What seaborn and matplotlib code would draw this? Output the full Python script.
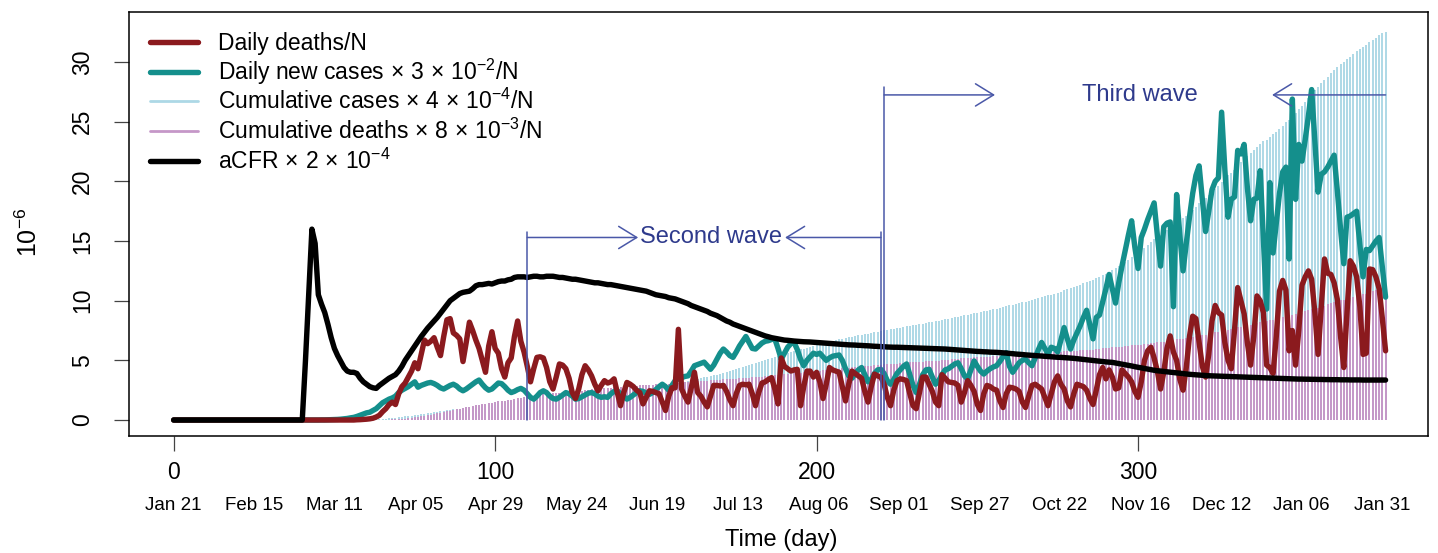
import numpy as np
import matplotlib
matplotlib.use("Agg")
import matplotlib.pyplot as plt
import seaborn as sns
from matplotlib.lines import Line2D
from matplotlib.patches import FancyArrowPatch
import matplotlib.transforms as mtransforms

# ---------------- data (units of 1e-6) ----------------
# Daily new cases x 3e-2 / N, day 0 .. 377
daily_cases = [0.0] * 46 + [
    0.01, 0.01, 0.02, 0.03, 0.04, 0.05, 0.07, 0.10, 0.13, 0.18,
    0.22, 0.30, 0.40, 0.50, 0.60, 0.65, 0.80, 0.95, 1.20, 1.45,
    1.60, 1.75, 1.85, 2.00, 2.30, 2.50, 2.65, 2.80, 3.00, 3.20,
    2.75, 2.90, 3.00, 3.10, 3.15, 3.05, 2.90, 2.70, 2.60, 2.75,
    2.90, 3.00, 2.85, 2.60, 2.45, 2.60, 2.80, 3.00, 3.20, 3.35,
    3.00, 2.70, 2.50, 2.60, 2.85, 3.10, 3.05, 2.80, 2.50, 2.30,
    2.40, 2.55, 2.65, 2.50, 2.20, 1.90, 1.75, 2.00, 2.30, 2.45,
    2.30, 2.00, 1.80, 1.75, 1.90, 2.10, 2.30, 2.20, 2.00, 1.75,
    1.80, 1.95, 2.10, 2.25, 2.30, 2.20, 2.00, 1.90, 1.95, 1.90,
    2.20, 2.40, 2.45, 2.20, 1.95, 1.75, 1.90, 2.10, 2.30, 2.45,
    2.40, 2.25, 2.15, 2.30, 2.55, 2.80, 3.00, 2.80, 2.50, 2.90,
    3.30, 3.45, 3.55, 3.65, 3.70, 4.10, 4.55, 4.65, 4.75, 4.85,
    4.55, 4.25, 4.60, 5.10, 5.60, 5.95, 5.70, 5.40, 5.25, 5.70,
    6.20, 6.60, 7.00, 6.50, 6.00, 5.95, 6.20, 6.45, 6.60, 6.65,
    6.75, 6.80, 6.00, 5.10, 5.60, 6.10, 6.40, 6.50, 5.90, 5.10,
    4.55, 5.00, 5.30, 5.60, 5.50, 5.60, 5.30, 5.00, 5.20, 5.35,
    5.40, 5.45, 5.00, 4.30, 3.70, 3.50, 3.90, 4.20, 4.40, 3.80,
    3.20, 3.40, 3.90, 4.20, 4.25, 3.90, 3.30, 3.00, 3.40, 3.90,
    4.20, 4.50, 4.70, 3.80, 2.90, 2.30, 3.00, 3.80, 4.20, 4.25,
    3.60, 3.00, 3.30, 3.80, 4.20, 4.30, 4.50, 4.70, 4.80, 4.30,
    3.70, 3.45, 4.20, 4.95, 4.50, 4.10, 3.85, 4.10, 4.30, 4.45,
    4.55, 4.90, 5.30, 5.65, 4.50, 4.00, 4.40, 4.80, 5.00, 5.10,
    4.80, 4.55, 5.20, 5.90, 6.50, 6.00, 5.55, 6.10, 6.00, 5.70,
    6.70, 7.75, 6.80, 5.95, 6.70, 7.30, 7.90, 8.60, 9.20, 8.00,
    6.80, 8.60, 8.80, 9.90, 11.00, 12.20, 11.00, 9.80, 11.50, 12.90,
    14.20, 15.50, 16.70, 14.50, 12.70, 15.30, 16.00, 16.80, 17.50, 18.20,
    15.50, 12.90, 16.20, 16.50, 16.60, 9.50, 18.90, 15.50, 12.50, 14.80,
    17.00, 19.00, 20.50, 21.30, 18.50, 15.80, 17.50, 19.30, 20.00, 20.30,
    25.80, 21.00, 17.00, 18.50, 18.70, 22.60, 22.30, 23.10, 19.50, 16.70,
    18.50, 18.60, 20.90, 15.00, 9.30, 19.90, 14.00, 16.50, 19.00, 20.80,
    21.20, 13.50, 26.90, 18.50, 23.10, 21.70, 23.50, 25.50, 27.70, 23.40,
    19.10, 20.60, 20.80, 21.20, 21.70, 22.20, 19.20, 16.00, 13.10, 17.00,
    17.10, 17.30, 17.50, 14.70, 12.00, 14.30, 14.20, 14.60, 15.00, 15.30,
    12.80, 10.30,
]

# Daily deaths / N, day 0 .. 377
daily_deaths = [0.0] * 57 + [
    0.02, 0.03, 0.05, 0.07, 0.10, 0.15, 0.25, 0.40, 0.70, 0.95,
    1.30, 1.50, 1.30, 2.20, 2.80, 3.10, 3.60, 4.10, 4.80, 4.30,
    5.50, 6.70, 6.40, 6.60, 6.90, 6.10, 5.40, 7.00, 8.40, 8.50,
    7.30, 7.10, 6.80, 4.90, 6.50, 8.20, 7.50, 6.70, 6.00, 5.00,
    4.00, 6.20, 7.40, 6.00, 5.60, 4.30, 3.60, 4.80, 5.20, 7.00,
    8.30, 6.60, 5.70, 4.50, 3.20, 4.30, 5.25, 5.30, 5.20, 4.40,
    3.20, 2.60, 3.60, 4.70, 4.60, 4.30, 3.50, 2.30, 1.80, 2.60,
    3.80, 4.55, 4.20, 3.70, 3.00, 2.45, 2.90, 3.30, 3.10, 3.20,
    3.45, 2.30, 1.20, 2.30, 3.15, 3.00, 2.80, 2.50, 2.30, 1.35,
    1.90, 2.45, 2.40, 2.30, 2.20, 1.50, 0.80, 2.00, 2.70, 2.70,
    7.60, 2.60, 2.00, 1.50, 2.70, 4.00, 2.30, 2.00, 1.50, 1.10,
    2.00, 2.90, 2.90, 2.85, 2.90, 2.40, 1.70, 1.20, 2.20, 2.90,
    3.00, 2.95, 3.00, 2.20, 1.20, 2.30, 3.10, 3.20, 3.40, 3.55,
    2.60, 1.35, 5.20, 4.50, 4.30, 4.10, 4.20, 4.25, 1.20, 2.80,
    4.10, 4.10, 3.60, 4.00, 3.20, 1.80, 3.00, 4.40, 4.20, 4.10,
    4.00, 2.80, 1.60, 3.00, 4.10, 3.90, 3.70, 3.50, 2.40, 1.50,
    2.80, 3.85, 3.70, 3.60, 3.00, 1.90, 1.20, 2.50, 3.30, 3.45,
    3.40, 3.30, 2.20, 1.20, 0.95, 2.30, 3.60, 3.60, 3.00, 2.40,
    1.50, 1.20, 3.80, 3.50, 3.20, 3.15, 3.10, 2.90, 1.50, 2.30,
    3.30, 2.90, 2.40, 1.30, 0.80, 2.20, 2.90, 2.80, 2.60, 2.50,
    1.60, 1.05, 2.20, 2.75, 2.70, 2.60, 2.40, 1.50, 1.05, 2.00,
    2.90, 3.00, 2.80, 2.60, 1.90, 1.20, 2.20, 3.20, 3.70, 3.00,
    2.60, 1.60, 1.10, 2.20, 3.00, 2.90, 2.80, 2.50, 1.80, 1.30,
    2.50, 3.80, 4.40, 3.45, 4.20, 3.60, 2.60, 2.70, 4.20, 3.90,
    3.60, 3.20, 2.40, 1.90, 3.20, 5.00, 5.80, 6.10, 5.20, 4.10,
    2.60, 4.00, 6.00, 7.05, 5.70, 5.00, 3.40, 2.50, 4.40, 7.00,
    8.70, 8.50, 6.50, 4.50, 3.60, 5.50, 8.30, 9.60, 9.00, 8.80,
    6.50, 5.00, 4.30, 7.50, 11.10, 10.00, 8.90, 6.50, 4.60, 7.00,
    10.40, 10.00, 9.00, 4.60, 4.40, 3.90, 7.00, 10.80, 11.70, 10.90,
    5.80, 7.50, 4.60, 7.50, 11.30, 12.00, 12.50, 11.80, 9.00, 5.50,
    9.50, 13.50, 12.30, 12.20, 11.50, 10.10, 7.00, 4.40, 9.00, 13.35,
    12.90, 12.00, 9.50, 5.50, 5.60, 12.66, 12.60, 12.00, 11.00, 8.50,
    5.80,
]

# aCFR x 2e-4, day 0 .. 377
acfr = [0.0] * 41 + [
    5.00, 10.50, 16.00, 14.80, 10.50, 9.70, 9.00, 8.00, 6.90, 6.00,
    5.40, 4.90, 4.40, 4.10, 4.00, 4.00, 3.90, 3.50, 3.20, 3.00,
    2.80, 2.70, 2.65, 2.90, 3.10, 3.30, 3.50, 3.65, 3.80, 4.10,
    4.50, 5.00, 5.40, 5.80, 6.20, 6.60, 7.00, 7.35, 7.70, 8.00,
    8.30, 8.60, 8.95, 9.30, 9.65, 10.00, 10.20, 10.40, 10.60, 10.70,
    10.75, 10.80, 11.00, 11.25, 11.35, 11.35, 11.40, 11.45, 11.40, 11.50,
    11.60, 11.65, 11.65, 11.75, 11.80, 11.95, 12.00, 12.00, 12.00, 11.95,
    12.00, 12.05, 12.05, 12.00, 12.00, 12.05, 12.05, 12.05, 12.00, 11.95,
    11.95, 11.90, 11.85, 11.80, 11.80, 11.75, 11.70, 11.65, 11.60, 11.55,
    11.50, 11.50, 11.45, 11.40, 11.35, 11.35, 11.30, 11.25, 11.20, 11.15,
    11.10, 11.05, 11.00, 10.95, 10.90, 10.85, 10.80, 10.70, 10.60, 10.50,
    10.45, 10.40, 10.35, 10.25, 10.20, 10.15, 10.05, 9.95, 9.85, 9.75,
    9.60, 9.50, 9.40, 9.30, 9.20, 9.10, 8.95, 8.85, 8.75, 8.60,
    8.45, 8.30, 8.20, 8.05, 7.95, 7.85, 7.75, 7.65, 7.55, 7.45,
    7.35, 7.25, 7.15, 7.05, 6.98, 6.90, 6.85, 6.80, 6.75, 6.70,
    6.68, 6.65, 6.62, 6.60, 6.58, 6.56, 6.55, 6.54, 6.52, 6.50,
    6.48, 6.46, 6.44, 6.42, 6.40, 6.38, 6.36, 6.34, 6.32, 6.30,
    6.29, 6.28, 6.26, 6.25, 6.23, 6.22, 6.20, 6.18, 6.17, 6.15,
    6.14, 6.12, 6.11, 6.10, 6.10, 6.09, 6.08, 6.07, 6.06, 6.05,
    6.04, 6.03, 6.02, 6.01, 6.00, 5.99, 5.98, 5.97, 5.96, 5.95,
    5.93, 5.91, 5.89, 5.87, 5.85, 5.83, 5.81, 5.79, 5.77, 5.75,
    5.74, 5.72, 5.71, 5.69, 5.68, 5.67, 5.65, 5.63, 5.61, 5.58,
    5.56, 5.53, 5.51, 5.49, 5.46, 5.44, 5.42, 5.40, 5.38, 5.36,
    5.34, 5.32, 5.30, 5.28, 5.26, 5.25, 5.23, 5.21, 5.19, 5.17,
    5.14, 5.11, 5.08, 5.05, 5.02, 4.99, 4.96, 4.93, 4.90, 4.87,
    4.85, 4.83, 4.78, 4.73, 4.68, 4.63, 4.58, 4.53, 4.47, 4.42,
    4.37, 4.32, 4.27, 4.22, 4.17, 4.13, 4.10, 4.07, 4.04, 4.01,
    3.98, 3.95, 3.92, 3.89, 3.86, 3.83, 3.81, 3.79, 3.77, 3.75,
    3.73, 3.71, 3.70, 3.69, 3.68, 3.67, 3.66, 3.65, 3.64, 3.63,
    3.62, 3.61, 3.60, 3.59, 3.58, 3.57, 3.56, 3.55, 3.54, 3.53,
    3.52, 3.51, 3.50, 3.49, 3.48, 3.47, 3.46, 3.45, 3.44, 3.43,
    3.43, 3.42, 3.42, 3.41, 3.41, 3.40, 3.40, 3.39, 3.39, 3.38,
    3.38, 3.38, 3.37, 3.37, 3.37, 3.36, 3.36, 3.36, 3.36, 3.35,
    3.35, 3.35, 3.35, 3.35, 3.35, 3.35, 3.35,
]

# legend scale factors (from the legend text)
cases_factor = 3e-2
cum_cases_factor = 4e-4
cum_deaths_factor = 8e-3

x_ticks = [0, 100, 200, 300]
y_ticks = [0, 5, 10, 15, 20, 25, 30]
date_labels = ["Jan 21", "Feb 15", "Mar 11", "Apr 05", "Apr 29", "May 24",
               "Jun 19", "Jul 13", "Aug 06", "Sep 01", "Sep 27", "Oct 22",
               "Nov 16", "Dec 12", "Jan 06", "Jan 31"]
last_day = 376

wave_names = ["Second wave", "Third wave"]
wave_start = [110, 221]
wave_end = [220, 377]
wave_level = [15.3, 27.25]
wave_top = [15.8, 27.9]
wave_text_x = [167.2, 300.5]
wave_tip_right = [144.5, 255.5]
wave_tip_left = [190.2, 341.7]

# ---------------- derived series ----------------
days = np.arange(len(daily_cases))
cum_cases = np.cumsum(daily_cases) * (cum_cases_factor / cases_factor)
cum_deaths = np.cumsum(daily_deaths) * cum_deaths_factor

# ---------------- style ----------------
sns.set_theme(style="white")
plt.rcParams["font.family"] = ["Liberation Sans", "DejaVu Sans"]
plt.rcParams["mathtext.fontset"] = "custom"
plt.rcParams["mathtext.rm"] = "Liberation Sans"
plt.rcParams["mathtext.it"] = "Liberation Sans:italic"
plt.rcParams["mathtext.bf"] = "Liberation Sans:bold"
for key in ("text.color", "axes.labelcolor", "xtick.color", "ytick.color"):
    plt.rcParams[key] = "black"

C_RED = "#8B1A1E"
C_TEAL = "#148F8C"
C_LBLUE = "#ADD8E6"
C_PLUM = "#C597C8"
C_BLACK = "#000000"
C_ARROW = "#4A58A8"
C_TEXT = "#2E3A8C"

W, H = 1438, 553
fig = plt.figure(figsize=(W / 100, H / 100), dpi=100)
ax_l, ax_r, ax_t, ax_b = 129, 1428, 12, 436
ax = fig.add_axes([ax_l / W, 1 - ax_b / H, (ax_r - ax_l) / W, (ax_b - ax_t) / H])

# bars (type = 'h')
ax.vlines(days, 0, cum_cases, color=C_LBLUE, lw=1.4, zorder=1)
ax.vlines(days, 0, cum_deaths, color=C_PLUM, lw=1.4, zorder=2)

# lines
sns.lineplot(x=days, y=daily_cases, ax=ax, color=C_TEAL, lw=3.9, zorder=3)
sns.lineplot(x=days, y=daily_deaths, ax=ax, color=C_RED, lw=3.9, zorder=4)
sns.lineplot(x=days, y=acfr, ax=ax, color=C_BLACK, lw=3.9, zorder=5)

# wave annotations
for i in range(2):
    ax.plot([wave_start[i], wave_start[i]], [0, wave_top[i]], color=C_ARROW, lw=1.1, zorder=6)
    if i == 0:
        ax.plot([wave_end[i], wave_end[i]], [0, wave_top[i]], color=C_ARROW, lw=1.1, zorder=6)
    for a, b in ((wave_start[i], wave_tip_right[i]), (wave_end[i], wave_tip_left[i])):
        arr = FancyArrowPatch((a, wave_level[i]), (b, wave_level[i]),
                              arrowstyle="->,head_length=1.3,head_width=0.8",
                              mutation_scale=10, color=C_ARROW, lw=1.1,
                              shrinkA=0, shrinkB=0, zorder=6)
        ax.add_patch(arr)
    ax.text(wave_text_x[i], wave_level[i], wave_names[i], color=C_TEXT,
            fontsize=17, ha="center", va="center", zorder=7)

# axes
ax.set_xlim(-13.9, 390.2)
ax.set_ylim(-1.34, 34.2)
ax.set_xticks(x_ticks)
ax.set_xticklabels([str(v) for v in x_ticks], fontsize=16.5)
ax.set_yticks(y_ticks)
ax.set_yticklabels([str(v) for v in y_ticks], fontsize=16.5, rotation=90, va="center")
ax.tick_params(axis="x", length=10.8, width=0.9, color="#444444", pad=7, bottom=True)
ax.tick_params(axis="y", length=10.8, width=0.9, color="#444444", pad=14.5, left=True)
for s in ax.spines.values():
    s.set_visible(True)
    s.set_color("black")
    s.set_linewidth(1.1)
ax.set_xlabel("")
ax.set_ylabel("")

trans = mtransforms.blended_transform_factory(ax.transData, ax.transAxes)
date_pos = np.linspace(0, last_day, len(date_labels))
for xpos, lab in zip(date_pos, date_labels):
    ax.text(xpos, (ax_b - 505) / (ax_b - ax_t), lab, transform=trans,
            fontsize=13.5, ha="center", va="center")

fig.text(781 / W, 1 - 540 / H, "Time (day)", fontsize=17, ha="center", va="center")
fig.text(29 / W, 1 - 232 / H, r"$10^{-6}$", fontsize=18, rotation=90, ha="center", va="center")

# legend (drawn by hand, R style, no box)
X = r"$\,\times\,$"
leg_labels = [
    "Daily deaths/N",
    "Daily new cases" + X + "3" + X + r"10$^{-2}$/N",
    "Cumulative cases" + X + "4" + X + r"10$^{-4}$/N",
    "Cumulative deaths" + X + "8" + X + r"10$^{-3}$/N",
    "aCFR" + X + "2" + X + r"10$^{-4}$",
]
leg_colors = [C_RED, C_TEAL, C_LBLUE, C_PLUM, C_BLACK]
leg_widths = [3.9, 3.9, 2.0, 2.0, 3.9]
leg_rows = [42, 72, 101, 131, 161]
for lab, col, lw, yy in zip(leg_labels, leg_colors, leg_widths, leg_rows):
    fig.add_artist(Line2D([150 / W, 198 / W], [1 - yy / H] * 2, color=col, lw=lw,
                          transform=fig.transFigure, solid_capstyle="round"))
    fig.text(218 / W, 1 - (yy + 7.6) / H, lab, fontsize=16.5, ha="left", va="baseline")

fig.savefig("out.png", dpi=100)
